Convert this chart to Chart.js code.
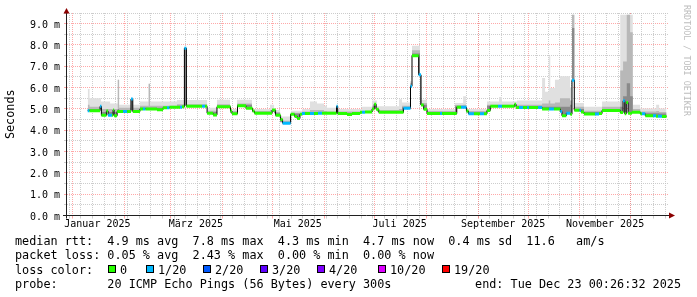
<!DOCTYPE html>
<html>
<head>
<meta charset="utf-8">
<script src="https://cdn.jsdelivr.net/npm/chart.js@4.4.1/dist/chart.umd.min.js"></script>
<style>
  html, body { margin: 0; padding: 0; background: #fff; }
  canvas { display: block; }
</style>
</head>
<body>
<canvas id="rtt-chart" width="697" height="297"></canvas>
<script>
// ---- data (days counted from 1 Jan 2025, values in ms) ----
const monthLabels = ['Januar 2025', 'März 2025', 'Mai 2025', 'Juli 2025', 'September 2025', 'November 2025'];
const labelMonths = [0, 2, 4, 6, 8, 10];
const yTicks = [0, 1, 2, 3, 4, 5, 6, 7, 8, 9];

// median rtt, held from each day until the next one
const medianDays = [9.2, 10.3, 16.6, 17.4, 20.4, 21.4, 23.8, 24.4, 25.0, 26.8,
  30.4, 32.8, 35.1, 36.2, 40.5, 42.3, 43.8, 50.7, 54.3, 56.7,
  58.2, 64.5, 65.7, 67.1, 68.3, 77.7, 79.5, 80.7, 84.3, 86.6,
  94.7, 95.6, 98.9, 104.0, 107.9, 109.1, 119.6, 121.7, 124.7, 125.9,
  130.7, 133.1, 134.6, 136.3, 137.5, 139.3, 142.3, 144.7, 147.1, 149.5,
  158.2, 158.9, 164.5, 167.5, 172.3, 173.5, 175.3, 179.5, 180.8, 181.9,
  183.5, 198.3, 202.5, 203.4, 207.4, 208.8, 210.4, 212.4, 220.2, 221.4,
  230.2, 232.8, 236.0, 237.2, 240.5, 244.1, 246.5, 248.3, 250.3, 254.9,
  257.3, 264.8, 265.7, 267.5, 269.9, 272.3, 273.5, 278.9, 281.3, 285.4,
  288.4, 292.2, 293.2, 295.8, 298.2, 299.2, 300.6, 303.7, 304.6, 306.4,
  313.0, 315.4, 317.2, 328.1, 329.8, 330.8, 331.7, 332.8, 335.1, 340.1,
  341.1, 343.1, 347.7, 349.5, 350.7, 353.1, 355.8];
const medianValues = [4.92, 4.92, 5.12, 4.70, 4.90, 4.70, 4.70, 4.95, 4.68, 4.88,
  4.88, 4.88, 5.46, 4.88, 5.00, 5.00, 5.00, 4.96, 5.06, 5.06,
  5.08, 5.08, 5.10, 7.85, 5.12, 5.12, 5.12, 4.80, 4.72, 5.10,
  4.90, 4.77, 5.15, 5.03, 4.90, 4.80, 4.95, 4.70, 4.50, 4.33,
  4.75, 4.65, 4.55, 4.75, 4.78, 4.78, 4.78, 4.78, 4.80, 4.80,
  5.12, 4.78, 4.74, 4.78, 4.84, 4.84, 4.86, 5.00, 5.22, 4.98,
  4.84, 5.03, 6.06, 7.50, 6.60, 5.18, 4.98, 4.78, 4.78, 4.78,
  5.08, 5.08, 4.90, 4.77, 4.77, 4.77, 4.77, 4.93, 5.12, 5.12,
  5.12, 5.22, 5.07, 5.07, 5.07, 5.07, 5.07, 5.07, 5.00, 5.00,
  5.00, 4.88, 4.68, 4.80, 4.75, 6.35, 4.94, 4.94, 4.85, 4.76,
  4.76, 4.78, 4.93, 4.83, 5.38, 4.77, 5.30, 4.80, 4.84, 4.77,
  4.77, 4.68, 4.68, 4.66, 4.66, 4.65, 4.65];
// index into lossLevels (0 = no loss, 1 = 1/20)
const medianLoss = [1, 0, 1, 0, 0, 1, 0, 0, 0, 0,
  1, 0, 1, 0, 0, 1, 0, 0, 0, 1,
  0, 1, 0, 1, 0, 1, 0, 0, 0, 0,
  0, 0, 0, 0, 0, 0, 0, 0, 0, 1,
  0, 0, 0, 0, 1, 0, 1, 0, 1, 0,
  1, 0, 0, 0, 0, 1, 0, 0, 0, 0,
  0, 1, 1, 0, 1, 0, 0, 0, 1, 0,
  0, 1, 0, 1, 0, 1, 0, 0, 0, 1,
  0, 0, 0, 1, 0, 1, 0, 1, 0, 1,
  0, 1, 0, 1, 0, 1, 0, 1, 0, 0,
  1, 0, 0, 0, 1, 0, 0, 0, 0, 0,
  1, 0, 1, 0, 1, 0, 0];

// smoke (ping spread) upper edges
const smokeDays = [9.2, 10.3, 17.2, 22.6, 27.2, 28.0, 40.5, 45.7, 46.5, 62.7,
  80.7, 86.6, 94.4, 98.6, 107.6, 118.4, 120.8, 124.4, 131.0, 137.5,
  142.3, 146.5, 150.7, 152.5, 157.9, 159.1, 173.5, 179.5, 182.4, 195.6,
  197.4, 202.2, 203.4, 208.2, 212.4, 229.2, 234.0, 235.8, 248.3, 255.5,
  257.3, 266.3, 281.3, 283.1, 285.3, 286.2, 289.0, 292.0, 298.0, 299.2,
  300.6, 306.4, 317.2, 328.1, 329.8, 332.0, 334.0, 335.6, 340.0, 349.6,
  351.4, 355.8];
const smokeLight = [5.94, 5.50, 5.35, 5.25, 6.37, 5.20, 5.35, 6.18, 5.35, 5.42,
  5.05, 5.43, 5.00, 5.43, 5.00, 5.20, 4.95, 4.65, 4.92, 5.00,
  5.35, 5.25, 5.15, 5.05, 5.15, 5.00, 5.10, 5.40, 5.12, 5.45,
  5.30, 6.30, 7.96, 5.43, 5.00, 5.28, 5.60, 5.00, 5.35, 5.56,
  5.35, 5.40, 6.45, 5.80, 7.47, 5.98, 6.37, 6.53, 6.00, 9.42,
  5.28, 5.10, 5.35, 9.42, 9.42, 9.42, 9.42, 5.20, 5.02, 5.20,
  5.02, 5.02];
const smokeMid = [5.20, 5.10, 5.00, 5.00, 6.37, 5.05, 5.15, 6.18, 5.15, 5.22,
  4.92, 5.22, 4.90, 5.25, 4.90, 4.95, 4.85, 4.45, 4.82, 4.88,
  4.95, 4.95, 4.90, 4.88, 5.15, 4.88, 4.92, 5.15, 4.95, 5.00,
  5.15, 6.20, 7.75, 5.28, 4.90, 5.18, 5.20, 4.90, 5.20, 5.20,
  5.20, 5.20, 5.25, 5.25, 5.40, 5.25, 5.30, 5.50, 5.40, 9.42,
  5.10, 4.92, 5.10, 6.80, 7.23, 9.42, 8.60, 5.00, 4.88, 4.90,
  4.85, 4.85];
const smokeDark = [5.00, 5.00, 4.85, 4.85, 5.00, 4.95, 5.05, 5.05, 5.05, 5.15,
  4.85, 5.15, 4.82, 5.20, 4.85, 4.85, 4.80, 4.38, 4.78, 4.82,
  4.85, 4.85, 4.84, 4.82, 5.12, 4.82, 4.88, 5.05, 4.88, 4.90,
  5.08, 6.10, 7.60, 5.20, 4.83, 5.12, 5.12, 4.83, 5.15, 5.15,
  5.15, 5.12, 5.10, 5.10, 5.10, 5.10, 5.10, 5.10, 5.20, 8.80,
  5.00, 4.85, 5.00, 5.10, 5.60, 6.20, 5.60, 4.90, 4.80, 4.80,
  4.78, 4.78];

const lossLevels = ['0', '1/20', '2/20', '3/20', '4/20', '10/20', '19/20'];
const lossColors = ['#26ff00', '#00b8ff', '#0059ff', '#5e00ff', '#7e00ff', '#dd00ff', '#ff0000'];

const rttStats = ['4.9', '7.8', '4.3', '4.7', '0.4', '11.6'];
const lossStats = ['0.05', '2.43', '0.00', '0.00'];
const probeText = '20 ICMP Echo Pings (56 Bytes) every 300s';
const endText = 'end: Tue Dec 23 00:26:32 2025';

// ---- helpers ----
const MONO = "'DejaVu Sans Mono', monospace";
const GRID = 'rgba(192,192,192,0.8)';
const MGRID = 'rgba(255,110,110,0.6)';
const dayOf = (y, m, d) => (Date.UTC(y, m, d) - Date.UTC(2025, 0, 1)) / 86400000;
const crisp = v => Math.round(v - 0.5) + 0.5;

// colored median band: one horizontal piece per step, no risers
const medianSteps = [];
for (let i = 0; i < medianDays.length - 1; i++) {
  medianSteps.push({ x: medianDays[i], y: medianValues[i] });
  medianSteps.push({ x: medianDays[i + 1], y: medianValues[i] });
}

const smokeSet = (vals, color, order) => ({
  data: smokeDays.map((d, i) => ({ x: d, y: vals[i] })),
  stepped: true,
  borderWidth: 0,
  borderColor: 'rgba(0,0,0,0)',
  backgroundColor: color,
  pointRadius: 0,
  fill: 1,
  order: order
});

const rrdDecor = {
  id: 'rrdDecor',
  beforeDraw(chart) {
    const c = chart.ctx;
    c.save();
    c.fillStyle = '#fff';
    c.fillRect(0, 0, chart.width, chart.height);
    c.restore();
  },
  beforeDatasetsDraw(chart) {
    const { ctx: c, chartArea: a, scales: { x, y } } = chart;
    c.save();
    c.lineWidth = 1;
    // horizontal grid, every 0.5 ms
    for (let v = 0.5; v <= y.max + 1e-9; v += 0.5) {
      const py = crisp(y.getPixelForValue(v));
      c.strokeStyle = Math.abs(v - Math.round(v)) < 1e-9 ? MGRID : GRID;
      c.setLineDash([1, 1]);
      c.beginPath(); c.moveTo(a.left, py); c.lineTo(a.right + 2, py); c.stroke();
      c.setLineDash([]);
      c.beginPath(); c.moveTo(a.left - 3, py); c.lineTo(a.left, py); c.stroke();
    }
    const vline = (d, color) => {
      if (d < x.min || d > x.max) return;
      const px = crisp(x.getPixelForValue(d));
      c.strokeStyle = color;
      c.setLineDash([1, 1]);
      c.beginPath(); c.moveTo(px, a.top); c.lineTo(px, a.bottom); c.stroke();
      c.setLineDash([]);
      c.beginPath(); c.moveTo(px, a.bottom); c.lineTo(px, a.bottom + 3); c.stroke();
    };
    // weeks (Mondays) and months
    for (let d = dayOf(2024, 11, 30); d <= x.max; d += 7) vline(d, GRID);
    for (let m = 0; m < 12; m++) vline(dayOf(2025, m, 1), MGRID);
    c.restore();
  },
  afterDatasetsDraw(chart) {
    const { ctx: c, chartArea: a, scales: { y } } = chart;
    const by = crisp(y.getPixelForValue(0));
    const lx = crisp(a.left) - 1;
    c.save();
    c.lineWidth = 1;
    c.strokeStyle = '#202020';
    c.beginPath(); c.moveTo(a.left - 4, by); c.lineTo(a.right + 3, by); c.stroke();
    c.beginPath(); c.moveTo(lx, a.bottom + 3); c.lineTo(lx, a.top - 1); c.stroke();
    c.fillStyle = '#8b0000';
    c.beginPath();
    c.moveTo(a.right + 2, by - 3); c.lineTo(a.right + 8, by); c.lineTo(a.right + 2, by + 3);
    c.closePath(); c.fill();
    c.beginPath();
    c.moveTo(lx - 3, a.top + 0.5); c.lineTo(lx, a.top - 5); c.lineTo(lx + 3, a.top + 0.5);
    c.closePath(); c.fill();
    c.restore();
  },
  afterDraw(chart) {
    const c = chart.ctx;
    c.save();
    c.fillStyle = '#000';
    c.textBaseline = 'alphabetic';
    c.font = '11.8px ' + MONO;
    c.fillText('median rtt:  ' + rttStats[0] + ' ms avg  ' + rttStats[1] + ' ms max  ' +
      rttStats[2] + ' ms min  ' + rttStats[3] + ' ms now  ' + rttStats[4] + ' ms sd  ' +
      rttStats[5] + '   am/s', 15, 244.5);
    c.fillText('packet loss: ' + lossStats[0] + ' % avg  ' + lossStats[1] + ' % max  ' +
      lossStats[2] + ' % min  ' + lossStats[3] + ' % now', 15, 259);
    c.fillText('loss color:', 15, 273.5);
    const swatchX = [108, 146, 203, 260, 317, 378, 442];
    lossLevels.forEach((lvl, i) => {
      c.fillStyle = lossColors[i];
      c.fillRect(swatchX[i], 265, 8, 8);
      c.strokeStyle = '#000';
      c.lineWidth = 1;
      c.strokeRect(swatchX[i] + 0.5, 265.5, 7, 7);
      c.fillStyle = '#000';
      c.fillText(lvl, swatchX[i] + 12, 273.5);
    });
    c.fillText('probe:       ' + probeText, 15, 288);
    c.textAlign = 'right';
    c.fillText(endText, 681, 288);
    // vertical watermark
    c.textAlign = 'left';
    c.fillStyle = '#bdbdbd';
    c.font = '8.4px ' + MONO;
    c.translate(684, 5);
    c.rotate(Math.PI / 2);
    c.fillText('RRDTOOL / TOBI OETIKER', 0, 0);
    c.restore();
  }
};

new Chart(document.getElementById('rtt-chart'), {
  type: 'line',
  data: {
    datasets: [
      {
        data: medianSteps,
        borderWidth: 3,
        borderCapStyle: 'butt',
        borderColor: lossColors[0],
        pointRadius: 0,
        fill: false,
        order: 0,
        segment: {
          borderColor: ctx => (ctx.p0DataIndex % 2 === 1)
            ? 'rgba(0,0,0,0)'
            : lossColors[medianLoss[ctx.p0DataIndex >> 1]]
        }
      },
      {
        data: medianDays.map((d, i) => ({ x: d, y: medianValues[i] })),
        stepped: true,
        borderWidth: 1,
        borderColor: '#000',
        pointRadius: 0,
        fill: false,
        order: 1
      },
      smokeSet(smokeDark, '#8a8a8a', 2),
      smokeSet(smokeMid, '#b8b8b8', 3),
      smokeSet(smokeLight, '#e0e0e0', 4)
    ]
  },
  options: {
    responsive: false,
    animation: false,
    devicePixelRatio: 1,
    events: [],
    layout: { padding: { left: 0, right: 30, top: 13, bottom: 0 } },
    plugins: { legend: { display: false }, tooltip: { enabled: false } },
    scales: {
      x: {
        type: 'linear',
        min: -3.2,
        max: 356.1,
        afterFit: s => { s.height = 81.5; },
        afterBuildTicks: s => { s.ticks = labelMonths.map(m => ({ value: dayOf(2025, m, 16) })); },
        grid: { display: false, drawTicks: false },
        border: { display: false },
        ticks: {
          autoSkip: false, maxRotation: 0, minRotation: 0, padding: 3,
          color: '#000', font: { family: MONO, size: 10 },
          callback: (v, i) => monthLabels[i]
        }
      },
      y: {
        min: 0,
        max: 9.5,
        afterFit: s => { s.width = 67; },
        afterBuildTicks: s => { s.ticks = yTicks.map(v => ({ value: v })); },
        grid: { display: false, drawTicks: false },
        border: { display: false },
        ticks: {
          padding: 7, labelOffset: 1.5, color: '#000', font: { family: MONO, size: 10 },
          callback: v => v.toFixed(1) + ' m'
        },
        title: {
          display: true, text: 'Seconds', color: '#000',
          font: { family: MONO, size: 11.8 }, padding: { top: 4, bottom: 0 }
        }
      }
    }
  },
  plugins: [rrdDecor]
});
</script>
</body>
</html>
